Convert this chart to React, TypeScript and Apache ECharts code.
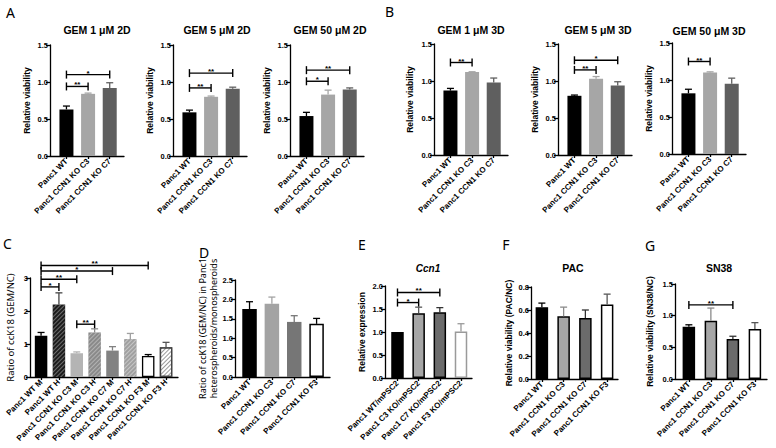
import React, { useEffect, useRef } from "react";
import * as echarts from "echarts";

// ---------- categories ----------
const groups3 = ["Panc1 WT", "Panc1 CCN1 KO C3", "Panc1 CCN1 KO C7"];
const groups4 = ["Panc1 WT", "Panc1 CCN1 KO C3", "Panc1 CCN1 KO C7", "Panc1 CCN1 KO F3"];
const groupsC = [
  "Panc1 WT M", "Panc1 WT H", "Panc1 CCN1 KO C3 M", "Panc1 CCN1 KO C3 H",
  "Panc1 CCN1 KO C7 M", "Panc1 CCN1 KO C7 H", "Panc1 CCN1 KO F3 M", "Panc1 CCN1 KO F3 H",
];
const groupsE = ["Panc1 WT/mPSC2", "Panc1 C3 KO/mPSC2", "Panc1 C7 KO/mPSC2", "Panc1 F3 KO/mPSC2"];

// ---------- values (mean) and error (SEM, upward) ----------
const gem1_2D = [0.63, 0.84, 0.92];
const gem1_2D_err = [0.045, 0.01, 0.07];
const gem5_2D = [0.59, 0.8, 0.91];
const gem5_2D_err = [0.03, 0.01, 0.02];
const gem50_2D = [0.54, 0.83, 0.9];
const gem50_2D_err = [0.05, 0.06, 0.02];
const gem1_3D = [0.87, 1.12, 0.98];
const gem1_3D_err = [0.03, 0.005, 0.06];
const gem5_3D = [0.8, 1.03, 0.94];
const gem5_3D_err = [0.01, 0.03, 0.05];
const gem50_3D = [0.82, 1.1, 0.95];
const gem50_3D_err = [0.055, 0.01, 0.075];
const ccK18 = [1.25, 2.2, 0.72, 1.35, 0.8, 1.15, 0.64, 0.9];
const ccK18_err = [0.1, 0.35, 0.04, 0.11, 0.12, 0.17, 0.04, 0.15];
const heteroMono = [1.75, 1.89, 1.42, 1.37];
const heteroMono_err = [0.19, 0.17, 0.16, 0.14];
const ccn1Expr = [1.0, 1.41, 1.43, 1.01];
const ccn1Expr_err = [0, 0.13, 0.1, 0.17];
const pacViab = [0.625, 0.545, 0.53, 0.648];
const pacViab_err = [0.035, 0.08, 0.07, 0.09];
const sn38Viab = [0.826, 0.92, 0.63, 0.79];
const sn38Viab_err = [0.03, 0.2, 0.045, 0.1];

// ---------- significance brackets: [from, to, height, label] ----------
const gem1_2D_sig = [[0, 1, 0.94, "**"], [0, 2, 1.1, "*"]];
const gem5_2D_sig = [[0, 1, 0.92, "**"], [0, 2, 1.12, "**"]];
const gem50_2D_sig = [[0, 1, 1.01, "*"], [0, 2, 1.16, "**"]];
const gem1_3D_sig = [[0, 1, 1.25, "**"]];
const gem5_3D_sig = [[0, 1, 1.15, "**"], [0, 2, 1.28, "*"]];
const gem50_3D_sig = [[0, 1, 1.25, "**"]];
const ccK18_sig = [[0, 1, 2.73, "*"], [0, 2, 2.96, "**"], [0, 4, 3.21, "*"], [0, 6, 3.38, "**"], [2, 3, 1.6, "**"]];
const heteroMono_sig: any[] = [];
const ccn1Expr_sig = [[0, 1, 1.64, "*"], [0, 2, 1.86, "**"]];
const pacViab_sig: any[] = [];
const sn38Viab_sig = [[0, 2, 1.17, "**"]];

const FONT = "'Liberation Sans', Arial, sans-serif";
const LFONT = "'Noto Sans', 'Open Sans', sans-serif";

const hatch = (color: string) => ({
  symbol: "rect",
  symbolSize: 1,
  dashArrayX: [1, 0],
  dashArrayY: [1, 1.6],
  rotation: -Math.PI / 4,
  color,
});

const styleAB = {
  fills: ["#000000", "#a6a6a6", "#5f5f5f"],
  borders: ["#000000", "#a6a6a6", "#5f5f5f"],
  bw: [0, 0, 0],
  errColors: ["#000000", "#a6a6a6", "#5f5f5f"],
  decals: [null, null, null],
};
const styleC = {
  fills: ["#000000", "#1c1c1c", "#b4b4b4", "#8a8a8a", "#828282", "#a0a0a0", "#ffffff", "#ffffff"],
  borders: ["#000", "#000", "#b4b4b4", "#8a8a8a", "#828282", "#a0a0a0", "#000", "#444"],
  bw: [0, 0, 0, 0, 0, 0, 1.3, 1.3],
  errColors: ["#000", "#444", "#b4b4b4", "#8a8a8a", "#828282", "#a0a0a0", "#000", "#555"],
  decals: [null, hatch("rgba(255,255,255,0.35)"), null, hatch("rgba(255,255,255,0.35)"), null, hatch("rgba(255,255,255,0.4)"), null, hatch("rgba(0,0,0,0.4)")],
};
const styleD = {
  fills: ["#000000", "#a3a3a3", "#767676", "#ffffff"],
  borders: ["#000", "#a3a3a3", "#767676", "#000"],
  bw: [0, 0, 0, 1.5],
  errColors: ["#000", "#a3a3a3", "#767676", "#000"],
  decals: [null, null, null, null],
};
const styleEFG = {
  fills: ["#000000", "#a6a6a6", "#6b6b6b", "#ffffff"],
  borders: ["#000", "#000", "#000", "#000"],
  bw: [1.5, 1.5, 1.5, 1.5],
  errColors: ["#000", "#8a8a8a", "#333", "#555"],
  decals: [null, null, null, null],
};
const styleE = { ...styleEFG, borders: ["#000", "#000", "#000", "#9a9a9a"], errColors: ["#000", "#555", "#333", "#9a9a9a"] };

const abGeom = { width: 74, height: 111, xMin: -0.76, xMax: 2.66, yMax: 1.5, yStep: 0.5, dec: 1, barWidth: 14 };

const panels: any[] = [
  { ...abGeom, left: 50, top: 45, cats: groups3, values: gem1_2D, errs: gem1_2D_err, sig: gem1_2D_sig, st: styleAB, yName: "Relative viability", nameGap: 18 },
  { ...abGeom, left: 173, top: 45, cats: groups3, values: gem5_2D, errs: gem5_2D_err, sig: gem5_2D_sig, st: styleAB, yName: "Relative viability", nameGap: 18 },
  { ...abGeom, left: 290, top: 45, cats: groups3, values: gem50_2D, errs: gem50_2D_err, sig: gem50_2D_sig, st: styleAB, yName: "Relative viability", nameGap: 18 },
  { ...abGeom, left: 434, top: 44, cats: groups3, values: gem1_3D, errs: gem1_3D_err, sig: gem1_3D_sig, st: styleAB, yName: "Relative viability", nameGap: 19 },
  { ...abGeom, left: 558, top: 44, cats: groups3, values: gem5_3D, errs: gem5_3D_err, sig: gem5_3D_sig, st: styleAB, yName: "Relative viability", nameGap: 18 },
  { ...abGeom, left: 672, top: 43, cats: groups3, values: gem50_3D, errs: gem50_3D_err, sig: gem50_3D_sig, st: styleAB, yName: "Relative viability", nameGap: 18 },
  { left: 30, top: 278, width: 148, height: 99, xMin: -0.62, xMax: 7.67, yMax: 3, yStep: 1, dec: 0, barWidth: 12.5,
    cats: groupsC, values: ccK18, errs: ccK18_err, sig: ccK18_sig, st: styleC, yName: "Ratio of ccK18 (GEM/NC)", nameGap: 14, nameFont: LFONT, nameWeight: "normal", nameSize: 9.5 },
  { left: 235, top: 280, width: 95, height: 97, xMin: -0.65, xMax: 3.6, yMax: 2.5, yStep: 0.5, dec: 1, barWidth: 14.5,
    cats: groups4, values: heteroMono, errs: heteroMono_err, sig: heteroMono_sig, st: styleD,
    yName: "Ratio of ccK18 (GEM/NC) in Panc1\nheterospheroids/monospheroids", nameGap: 14, nameFont: LFONT, nameWeight: "normal", nameSize: 9, nameLH: 11 },
  { left: 385, top: 286, width: 87, height: 92, xMin: -0.59, xMax: 3.52, yMax: 2, yStep: 0.5, dec: 1, barWidth: 12.5,
    cats: groupsE, values: ccn1Expr, errs: ccn1Expr_err, sig: ccn1Expr_sig, st: styleE, yName: "Relative expression", nameGap: 18 },
  { left: 531, top: 287, width: 87, height: 92, xMin: -0.5, xMax: 3.5, yMax: 0.8, yStep: 0.2, dec: 1, barWidth: 12.5,
    cats: groups4, values: pacViab, errs: pacViab_err, sig: pacViab_sig, st: styleEFG, yName: "Relative viability (PAC/NC)", nameGap: 17 },
  { left: 675, top: 284, width: 92, height: 95, xMin: -0.63, xMax: 3.55, yMax: 1.5, yStep: 0.5, dec: 1, barWidth: 12.5,
    cats: groups4, values: sn38Viab, errs: sn38Viab_err, sig: sn38Viab_sig, st: styleEFG, yName: "Relative viability (SN38/NC)", nameGap: 20 },
];

const titles = [
  { text: "GEM 1 μM 2D", x: 97, y: 30 },
  { text: "GEM 5 μM 2D", x: 217, y: 30 },
  { text: "GEM 50 μM 2D", x: 330, y: 30 },
  { text: "GEM 1 μM 3D", x: 471, y: 30 },
  { text: "GEM 5 μM 3D", x: 598, y: 30 },
  { text: "GEM 50 μM 3D", x: 709, y: 31 },
  { text: "Ccn1", x: 428, y: 268, italic: true },
  { text: "PAC", x: 573, y: 268 },
  { text: "SN38", x: 719, y: 268 },
];
const letters = [
  { text: "A", x: 10.5, y: 12 },
  { text: "B", x: 389.5, y: 11 },
  { text: "C", x: 7.5, y: 243 },
  { text: "D", x: 204, y: 252 },
  { text: "E", x: 362, y: 244 },
  { text: "F", x: 506, y: 244 },
  { text: "G", x: 650, y: 245 },
];

function buildOption() {
  const grid = panels.map((p) => ({ left: p.left, top: p.top, width: p.width, height: p.height }));
  const axisLineStyle = { color: "#000", width: 1.3 };
  const xAxis = panels.map((p, i) => {
    const idx = p.cats.map((_: string, k: number) => k);
    return {
      gridIndex: i,
      type: "value",
      min: p.xMin,
      max: p.xMax,
      splitLine: { show: false },
      axisLine: { show: true, onZero: false, lineStyle: axisLineStyle },
      axisTick: { show: true, length: 3, customValues: idx, lineStyle: axisLineStyle },
      axisLabel: {
        customValues: idx,
        rotate: 45,
        margin: 4,
        fontSize: 8,
        fontWeight: "bold",
        fontFamily: FONT,
        color: "#000",
        formatter: (v: number) => {
          const r = Math.round(v);
          return Math.abs(v - r) < 1e-6 && r >= 0 && r < p.cats.length ? p.cats[r] : "";
        },
      },
    };
  });
  const yAxis = panels.map((p, i) => ({
    gridIndex: i,
    type: "value",
    min: 0,
    max: p.yMax,
    interval: p.yStep,
    splitLine: { show: false },
    axisLine: { show: true, onZero: false, lineStyle: axisLineStyle },
    axisTick: { show: true, length: 4, lineStyle: axisLineStyle },
    axisLabel: {
      margin: 2,
      fontSize: 7.5,
      fontWeight: "bold",
      fontFamily: FONT,
      color: "#000",
      formatter: (v: number) => v.toFixed(p.dec),
    },
    name: p.yName,
    nameLocation: "middle",
    nameGap: p.nameGap,
    nameTextStyle: {
      fontSize: p.nameSize || 8.5,
      fontWeight: p.nameWeight || "bold",
      fontFamily: p.nameFont || FONT,
      color: "#000",
      lineHeight: p.nameLH || 11,
    },
  }));

  const series: any[] = [];
  panels.forEach((p, i) => {
    series.push({
      type: "bar",
      xAxisIndex: i,
      yAxisIndex: i,
      barWidth: p.barWidth,
      silent: true,
      data: p.values.map((v: number, k: number) => ({
        value: [k, v],
        itemStyle: {
          color: p.st.fills[k],
          borderColor: p.st.borders[k],
          borderWidth: p.st.bw[k],
          decal: p.st.decals[k] || undefined,
        },
      })),
    });
    series.push({
      type: "custom",
      xAxisIndex: i,
      yAxisIndex: i,
      silent: true,
      z: 3,
      encode: { x: 0, y: 1 },
      data: p.values.map((v: number, k: number) => [k, v, p.errs[k]]),
      renderItem: (params: any, api: any) => {
        const k = params.dataIndex;
        const v = p.values[k];
        const e = p.errs[k];
        if (!e) return { type: "group", children: [] };
        const a = api.coord([k, v]);
        const b = api.coord([k, v + e]);
        const st = { stroke: p.st.errColors[k], lineWidth: 1.3 };
        return {
          type: "group",
          children: [
            { type: "line", shape: { x1: a[0], y1: a[1], x2: b[0], y2: b[1] }, style: st },
            { type: "line", shape: { x1: b[0] - 3.5, y1: b[1], x2: b[0] + 3.5, y2: b[1] }, style: st },
          ],
        };
      },
    });
    if (p.sig.length) {
      series.push({
        type: "custom",
        xAxisIndex: i,
        yAxisIndex: i,
        silent: true,
        z: 4,
        clip: false,
        encode: { x: [0, 1], y: 2 },
        data: p.sig.map((s: any[]) => [s[0], s[1], s[2]]),
        renderItem: (params: any, api: any) => {
          const s = p.sig[params.dataIndex];
          const a = api.coord([s[0], s[2]]);
          const b = api.coord([s[1], s[2]]);
          const st = { stroke: "#000", lineWidth: 1.4 };
          return {
            type: "group",
            children: [
              { type: "line", shape: { x1: a[0], y1: a[1], x2: b[0], y2: b[1] }, style: st },
              { type: "line", shape: { x1: a[0], y1: a[1] - 4, x2: a[0], y2: a[1] + 4 }, style: st },
              { type: "line", shape: { x1: b[0], y1: b[1] - 4, x2: b[0], y2: b[1] + 4 }, style: st },
              {
                type: "text",
                x: (a[0] + b[0]) / 2,
                y: a[1] + 2.5,
                style: {
                  text: s[3],
                  fill: "#000",
                  fontSize: 8,
                  fontWeight: "bold",
                  fontFamily: FONT,
                  align: "center",
                  verticalAlign: "bottom",
                },
              },
            ],
          };
        },
      });
    }
  });

  const graphic: any[] = [
    ...titles.map((t) => ({
      type: "text",
      x: t.x,
      y: t.y,
      silent: true,
      style: {
        text: t.text,
        fill: "#000",
        fontSize: t.italic ? 10 : 10.5,
        fontWeight: "bold",
        fontStyle: t.italic ? "italic" : "normal",
        fontFamily: FONT,
        align: "center",
        verticalAlign: "middle",
      },
    })),
    ...letters.map((t) => ({
      type: "text",
      x: t.x,
      y: t.y,
      silent: true,
      style: {
        text: t.text,
        fill: "#000",
        fontSize: 14,
        fontWeight: "normal",
        fontFamily: LFONT,
        align: "center",
        verticalAlign: "middle",
      },
    })),
  ];

  return {
    animation: false,
    backgroundColor: "#ffffff",
    grid,
    xAxis,
    yAxis,
    series,
    graphic,
  };
}

export default function App() {
  const ref = useRef<HTMLDivElement>(null);
  useEffect(() => {
    document.body.style.margin = "0";
    const chart = echarts.init(ref.current!, null, { renderer: "svg" });
    chart.setOption(buildOption() as any);
    return () => chart.dispose();
  }, []);
  return <div ref={ref} style={{ position: "fixed", left: 0, top: 0, width: 776, height: 448 }} />;
}
